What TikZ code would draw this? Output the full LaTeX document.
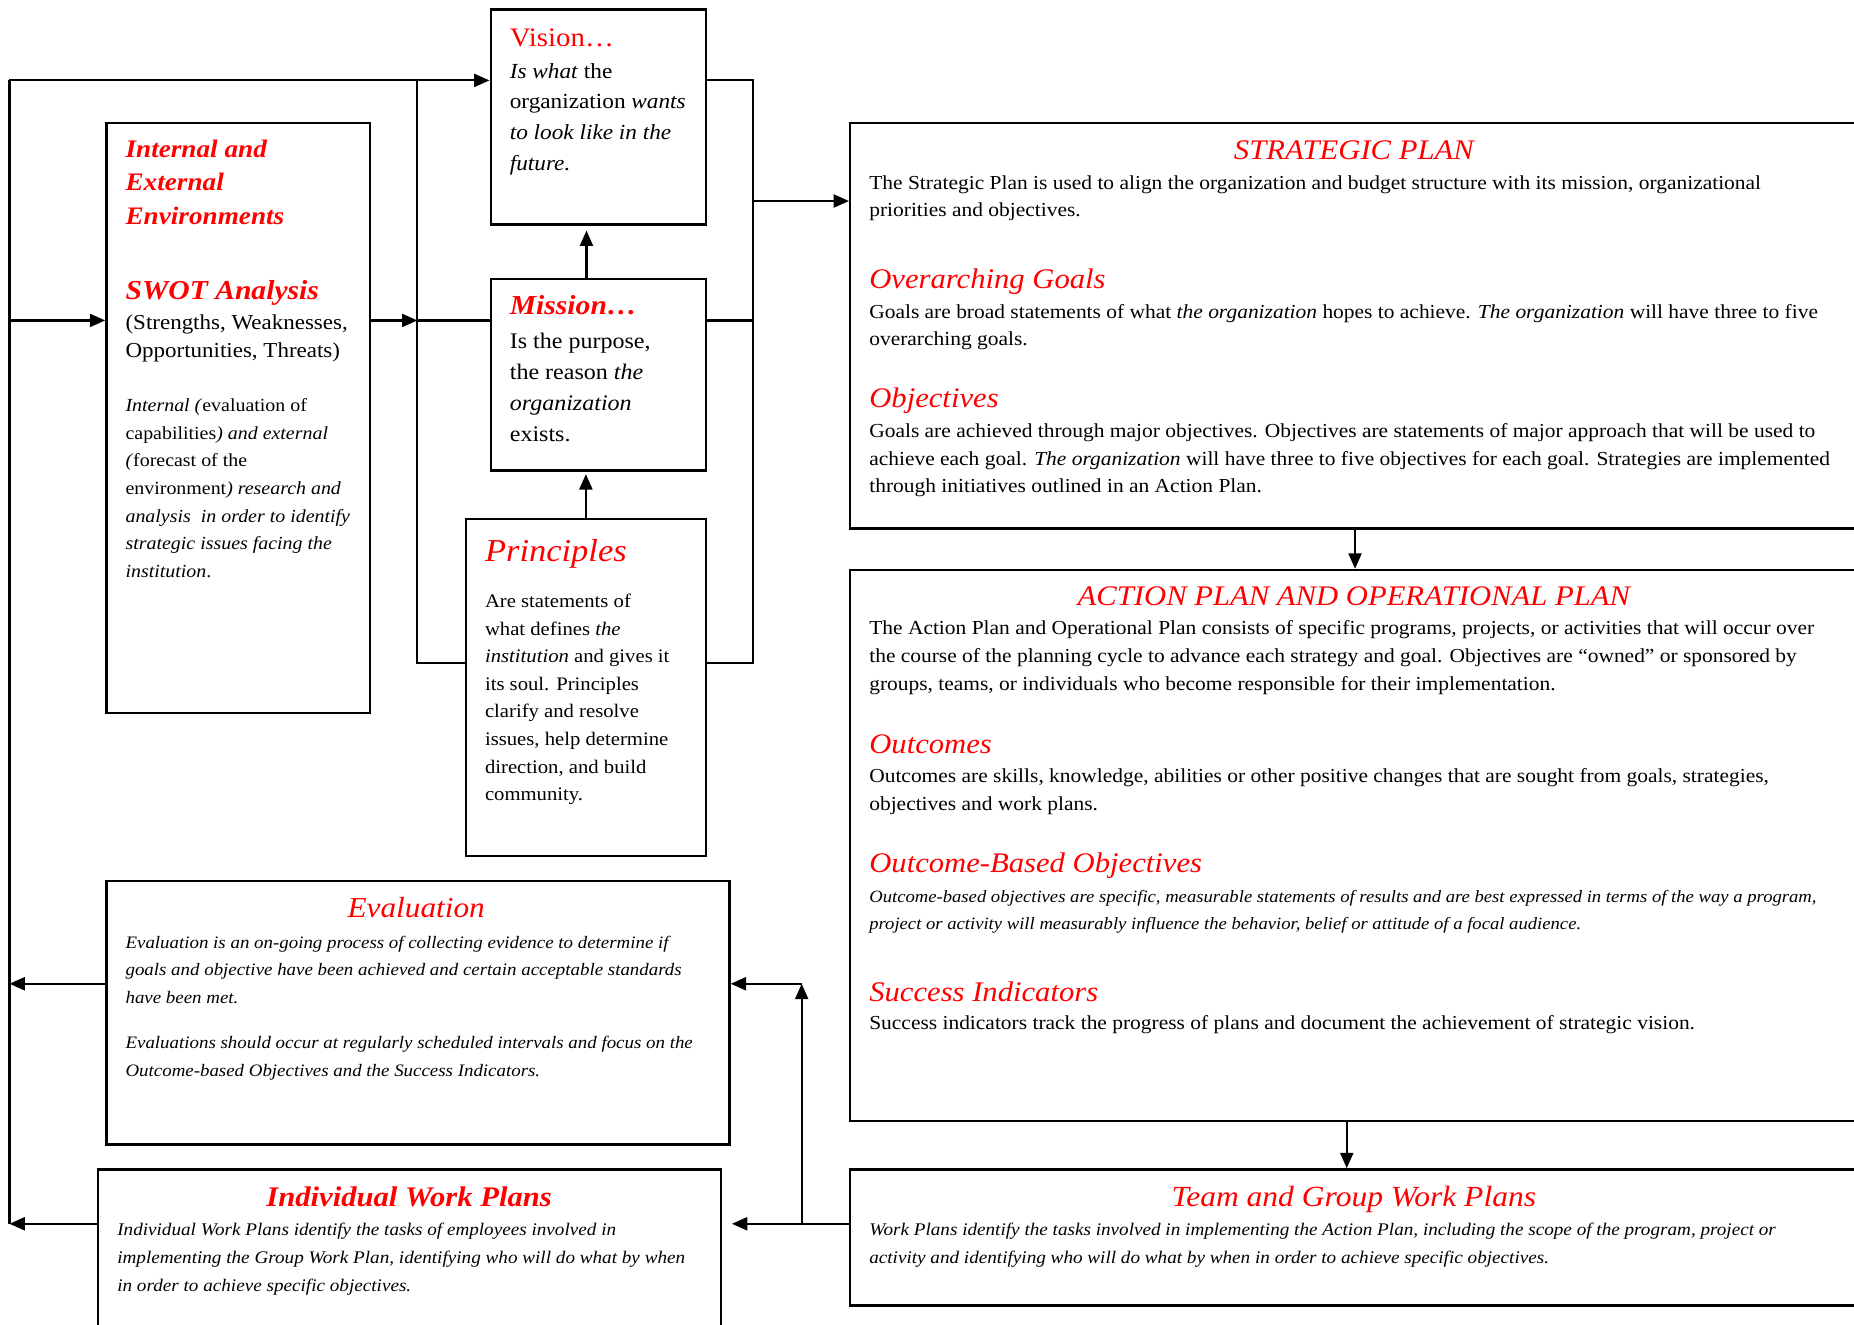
\documentclass[tikz,border=0pt]{standalone}
\usepackage{fontspec}
\setmainfont{Liberation Serif}[FakeStretch=1.08]
\usetikzlibrary{arrows.meta}
\definecolor{hred}{RGB}{255,0,0}
\newcommand{\Lines}[6]{\foreach \lt [count=\li from 0] in {#6}{\node[#1,anchor=base west] (#2\li) at ({#3},{#4+\li*#5}) {\lt};}}
\begin{document}
\begin{tikzpicture}[x=1pt,y=-1pt,
  box/.style={draw,line width=2pt,inner sep=0pt,anchor=north west},
  conn/.style={line width=1.8pt},
  arr/.style={conn,-{Triangle[length=13pt,width=11pt]}},
  txt/.style={inner sep=0pt,text=black},
  ttl/.style={inner sep=0pt,text=hred},
  bodyL/.style={txt,font=\fontsize{18.8}{21}\selectfont},
  bodyV/.style={txt,font=\fontsize{18.2}{21}\selectfont},
  bodyW/.style={txt,font=\fontsize{18}{21}\selectfont},
  bodyM/.style={txt,font=\fontsize{16.2}{19}\selectfont},
  bodyS/.style={txt,font=\fontsize{15.6}{18}\selectfont},
  bodyR/.style={txt,font=\fontsize{16.8}{19}\selectfont},
  bodyI/.style={txt,font=\fontsize{15}{18}\selectfont\itshape},
  ttlU/.style={ttl,font=\fontsize{22.6}{26}\selectfont},
  ttlBI/.style={ttl,font=\fontsize{23.2}{26}\selectfont\bfseries\itshape},
  ttlE/.style={ttl,font=\fontsize{21.3}{26}\selectfont\bfseries\itshape},
  ttlI/.style={ttl,font=\fontsize{24}{26}\selectfont\itshape},
  ttlP/.style={ttl,font=\fontsize{27}{32}\selectfont\itshape},
]
\useasboundingbox (0,0) rectangle (1568,1120);
\fill[white] (0,0) rectangle (1568,1120);

% boxes
\node[box,minimum width=182pt,minimum height=182pt] (vision) at (414,7) {};
\node[box,minimum width=182pt,minimum height=162pt] (mission) at (414,235) {};
\node[box,minimum width=203pt,minimum height=285pt] (principles) at (393,438) {};
\node[box,minimum width=223pt,minimum height=499pt] (swot) at (89,103) {};
\node[box,minimum width=854pt,minimum height=343pt] (strategic) at (718,103) {};
\node[box,minimum width=854pt,minimum height=466pt] (action) at (718,481) {};
\node[box,minimum width=854pt,minimum height=115pt] (team) at (718,988) {};
\node[box,minimum width=527pt,minimum height=223pt] (eval) at (89,744) {};
\node[box,minimum width=527pt,minimum height=160pt] (indiv) at (82,988) {};

% Vision
\node[ttlU,anchor=base west] (visT) at (431,39) {Vision\ldots};
\Lines{bodyV}{vis}{431}{66}{26}{{\textit{Is what} the},{organization \textit{wants}},{\textit{to look like in the}},{\textit{future.}}}

% Mission
\node[ttlBI,anchor=base west] (misT) at (431,266) {Mission\ldots};
\Lines{bodyL}{mis}{431}{295}{26}{{Is the purpose,},{the reason \textit{the}},{\textit{organization}},{exists.}}

% Principles
\node[ttlP,anchor=base west] (priT) at (410,475) {Principles};
\Lines{bodyM}{pri}{410}{514}{23.3}{{Are statements of},{what defines \textit{the}},{\textit{institution} and gives it},{its soul. Principles},{clarify and resolve},{issues, help determine},{direction, and build},{community.}}

% SWOT
\Lines{ttlE}{env}{106}{133}{28.5}{{Internal and},{External},{Environments}}
\node[ttlBI,anchor=base west] (swT) at (106,253) {SWOT Analysis};
\Lines{bodyW}{sw}{106}{279}{23}{{(Strengths, Weaknesses,},{Opportunities, Threats)}}
\Lines{bodyS}{swi}{106}{348}{23.4}{{\textit{Internal (}evaluation of},{capabilities\textit{) and external}},{\textit{(}forecast of the},{environment\textit{) research and}},{\textit{analysis\ \ in order to identify}},{\textit{strategic issues facing the}},{\textit{institution}.}}

% Strategic plan
\node[ttlI,anchor=base] (spT) at (1145,135) {STRATEGIC PLAN};
\Lines{bodyR}{sp}{735}{160}{23.5}{{The Strategic Plan is used to align the organization and budget structure with its mission, organizational},{priorities and objectives.}}
\node[ttlI,anchor=base west] (ogT) at (735,244) {Overarching Goals};
\Lines{bodyR}{og}{735}{269}{23.5}{{Goals are broad statements of what \textit{the organization} hopes to achieve. \textit{The organization} will have three to five},{overarching goals.}}
\node[ttlI,anchor=base west] (obT) at (735,345) {Objectives};
\Lines{bodyR}{ob}{735}{370}{23.3}{{Goals are achieved through major objectives. Objectives are statements of major approach that will be used to},{achieve each goal. \textit{The organization} will have three to five objectives for each goal. Strategies are implemented},{through initiatives outlined in an Action Plan.}}

% Action plan
\node[ttlI,anchor=base] (apT) at (1145,512) {ACTION PLAN AND OPERATIONAL PLAN};
\Lines{bodyR}{ap}{735}{537}{23.5}{{The Action Plan and Operational Plan consists of specific programs, projects, or activities that will occur over},{the course of the planning cycle to advance each strategy and goal. Objectives are “owned” or sponsored by},{groups, teams, or individuals who become responsible for their implementation.}}
\node[ttlI,anchor=base west] (ocT) at (735,637) {Outcomes};
\Lines{bodyR}{oc}{735}{662}{23.5}{{Outcomes are skills, knowledge, abilities or other positive changes that are sought from goals, strategies,},{objectives and work plans.}}
\node[ttlI,anchor=base west] (oboT) at (735,738) {Outcome-Based Objectives};
\Lines{bodyI,font=\fontsize{14.6}{18}\selectfont\itshape}{obo}{735}{763}{23.5}{{Outcome-based objectives are specific, measurable statements of results and are best expressed in terms of the way a program,},{project or activity will measurably influence the behavior, belief or attitude of a focal audience.}}
\node[ttlI,anchor=base west] (siT) at (735,847) {Success Indicators};
\Lines{bodyR}{si}{735}{871}{23.5}{{Success indicators track the progress of plans and document the achievement of strategic vision.}}

% Team
\node[ttlI,anchor=base,font=\fontsize{24.7}{26}\selectfont\itshape] (tmT) at (1145,1020) {Team and Group Work Plans};
\Lines{bodyI}{tm}{735}{1045}{23.5}{{Work Plans identify the tasks involved in implementing the Action Plan, including the scope of the program, project or},{activity and identifying who will do what by when in order to achieve specific objectives.}}

% Evaluation
\node[ttlI,anchor=base,font=\fontsize{24.5}{26}\selectfont\itshape] (evT) at (352,776) {Evaluation};
\Lines{bodyI,font=\fontsize{14.8}{18}\selectfont\itshape}{ev}{106}{802}{23.3}{{Evaluation is an on-going process of collecting evidence to determine if},{goals and objective have been achieved and certain acceptable standards},{have been met.}}
\Lines{bodyI,font=\fontsize{14.8}{18}\selectfont\itshape}{evb}{106}{887}{23.3}{{Evaluations should occur at regularly scheduled intervals and focus on the},{Outcome-based Objectives and the Success Indicators.}}

% Individual
\node[ttlI,anchor=base,font=\fontsize{24}{26}\selectfont\bfseries\itshape] (ivT) at (346,1020) {Individual Work Plans};
\Lines{bodyI}{iv}{99}{1045}{23.5}{{Individual Work Plans identify the tasks of employees involved in},{implementing the Group Work Plan, identifying who will do what by when},{in order to achieve specific objectives.}}

% coordinates
\coordinate (tl) at (8,68);
\coordinate (jx) at (353,68);
\coordinate (jb) at (353,561);
\coordinate (rt) at (637,68);
\coordinate (rb) at (637,561);
\coordinate (rm) at (637,271);
\coordinate (rs) at (637,170);
\coordinate (lm) at (8,271);
\coordinate (jm) at (353,271);
\coordinate (le) at (8,832);
\coordinate (li) at (8,1035);
\coordinate (jw) at (678,1035);
\coordinate (je) at (678,832);

% connectors
\draw[conn] (tl) -- (li);
\draw[arr] (tl) -- (tl -| vision.west);
\draw[conn] (jx) -- (jb) -- (jb -| principles.west);
\draw[arr] (lm) -- (lm -| swot.west);
\draw[arr] (lm -| swot.east) -- (jm);
\draw[conn] (jm) -- (jm -| mission.west);
\draw[conn] (rt -| vision.east) -- (rt) -- (rb) -- (rb -| principles.east);
\draw[conn] (rm -| mission.east) -- (rm);
\draw[arr] (rs) -- (rs -| strategic.west);
\draw[arr] ([xshift=-10pt]mission.north) -- ([xshift=-10pt,yshift=-4pt]vision.south);
\draw[arr] (principles.north) -- ([yshift=-2pt]principles.north |- mission.south);
\draw[arr] (strategic.south) -- (action.north);
\draw[arr] ([xshift=-7pt]action.south) -- ([xshift=-7pt]team.north);
\draw[arr] (jw -| team.west) -- (jw) -- (je);
\draw[arr] (je) -- (je -| eval.east);
\draw[arr] (jw) -- ([xshift=8pt]jw -| indiv.east);
\draw[arr] (le -| eval.west) -- (le);
\draw[arr] (li -| indiv.west) -- (li);
\end{tikzpicture}
\end{document}
